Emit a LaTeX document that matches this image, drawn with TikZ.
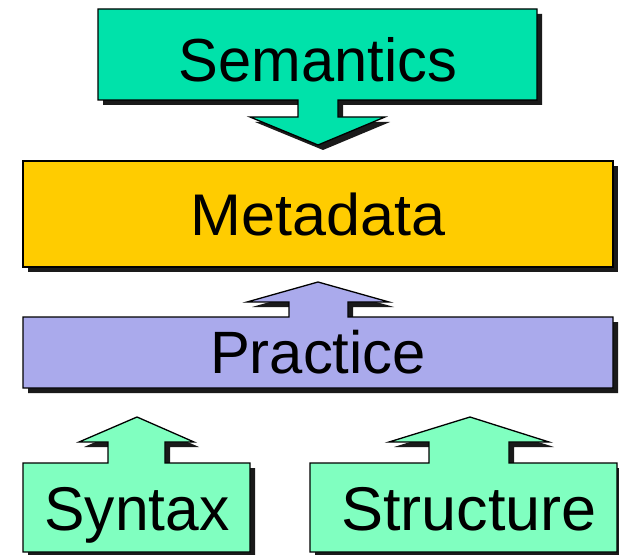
\documentclass[tikz,border=0pt]{standalone}
\usepackage{fontspec}
\newfontfamily\lsans{Liberation Sans}
\definecolor{semc}{RGB}{0,226,170}
\definecolor{metac}{RGB}{255,204,0}
\definecolor{pracc}{RGB}{170,170,236}
\definecolor{sync}{RGB}{128,255,192}
\definecolor{shadc}{RGB}{26,26,26}
\tikzset{
  shad/.style={fill=shadc, shift={(5,5)}},
  shapebox/.style={draw=black, line width=1.3bp, line join=miter},
  lbl/.style={inner sep=0pt, anchor=base, text=black},
}
\newcommand\lblfont[1]{\lsans\fontsize{#1}{#1}\selectfont}
\begin{document}
\begin{tikzpicture}[x=1bp,y=-1bp]
\useasboundingbox (0,0) rectangle (619,555);
\clip (0,0) rectangle (619,555);
\def\pathSem{(98,9) -- (537,9) -- (537,100) -- (338,100) -- (338,117) -- (385,117) -- (318,145) -- (250,117) -- (298,117) -- (298,100) -- (98,100) -- cycle}
\def\pathMeta{(23,161) rectangle (613,267)}
\def\pathPrac{(23,317) -- (289,317) -- (289,302) -- (247,302) -- (318,282) -- (389,302) -- (348,302) -- (348,317) -- (613,317) -- (613,388) -- (23,388) -- cycle}
\def\pathSyn{(23,463) -- (108,463) -- (108,442) -- (79,442) -- (137,417) -- (194,442) -- (165,442) -- (165,463) -- (250,463) -- (250,552) -- (23,552) -- cycle}
\def\pathStr{(310,463) -- (429,463) -- (429,442) -- (389,442) -- (470,417) -- (549,442) -- (509,442) -- (509,463) -- (617,463) -- (617,552) -- (310,552) -- cycle}
% shadows
\fill[shad] \pathSem;
\fill[shad] \pathMeta;
\fill[shad] \pathPrac;
\fill[shad] \pathSyn;
\fill[shad] \pathStr;
% shapes
\filldraw[shapebox, fill=semc] \pathSem;
\filldraw[shapebox, fill=metac] \pathMeta;
\filldraw[shapebox, fill=pracc] \pathPrac;
\filldraw[shapebox, fill=sync] \pathSyn;
\filldraw[shapebox, fill=sync] \pathStr;
% labels
\node[lbl] (sem) at (318,82) {\lblfont{61}\scalebox{0.98}[1]{Semantics}};
\node[lbl] (meta) at (318,236) {\lblfont{59}\scalebox{1.04}[1]{Metadata}};
\node[lbl] (prac) at (318,373) {\lblfont{60}Practice};
\node[lbl] (syn) at (137,530) {\lblfont{62}\scalebox{0.98}[1]{Syntax}};
\node[lbl] (str) at (469,530) {\lblfont{62}\scalebox{1.02}[1]{Structure}};
\end{tikzpicture}
\end{document}
